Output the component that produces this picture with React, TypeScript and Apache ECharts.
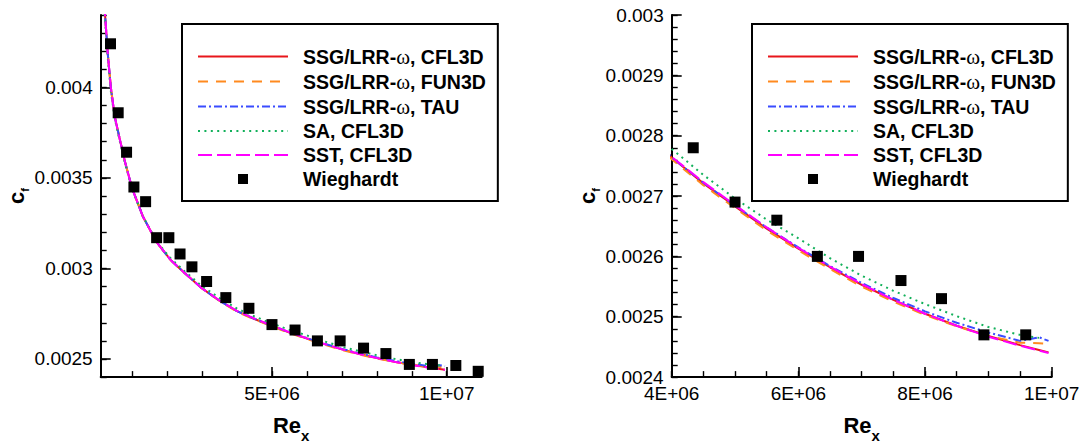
import React, { useEffect, useRef } from 'react';
import * as echarts from 'echarts';

const FONT = '"Liberation Sans", Arial, Helvetica, sans-serif';

const SERIES_NAMES = [
  'SSG/LRR-ω, CFL3D',
  'SSG/LRR-ω, FUN3D',
  'SSG/LRR-ω, TAU',
  'SA, CFL3D',
  'SST, CFL3D',
  'Wieghardt',
];
const COLORS = ['#e8161b', '#ff8a1f', '#3a4cff', '#12b05a', '#ff00ff', '#000000'];
const DASHES: any[] = ['solid', [10, 8], [8, 3, 2, 3], [2, 4.4], [14, 5]];

// Re_x in millions
const RE_CURVE = [0.2, 0.25, 0.3, 0.39, 0.5, 0.65, 0.8, 1.0, 1.3, 1.7, 2.1, 2.5, 3.0, 3.5, 4.0, 4.5, 5.0, 5.5, 6.0, 6.5, 7.0, 7.5, 8.0, 8.5, 9.0, 9.5, 9.8, 9.95];
const CF_SSG_CFL3D = [0.00447, 0.00433, 0.00419, 0.004, 0.00384, 0.00371, 0.003585, 0.003442, 0.00329, 0.003145, 0.003047, 0.002975, 0.00289, 0.002822, 0.002764, 0.002721, 0.002683, 0.002646, 0.002613, 0.002582, 0.002553, 0.002528, 0.002505, 0.002485, 0.002468, 0.002453, 0.002445, 0.002441];
const CF_SSG_FUN3D = [0.00447, 0.00433, 0.00419, 0.004, 0.00384, 0.00371, 0.003585, 0.003442, 0.00329, 0.003145, 0.003047, 0.002975, 0.00289, 0.00282, 0.002761, 0.002718, 0.00268, 0.002643, 0.00261, 0.002579, 0.00255, 0.002525, 0.002503, 0.002484, 0.002468, 0.002457, 0.002456, 0.002455];
const CF_SSG_TAU = [0.00447, 0.00433, 0.00419, 0.004, 0.00384, 0.00371, 0.003585, 0.003442, 0.00329, 0.003145, 0.003047, 0.002975, 0.00289, 0.002822, 0.002764, 0.002722, 0.002684, 0.002648, 0.002615, 0.002584, 0.002556, 0.002531, 0.002509, 0.00249, 0.002474, 0.00246, 0.002466, 0.00246];
const CF_SA_CFL3D = [0.00444, 0.0043, 0.00417, 0.00398, 0.00383, 0.0037, 0.003578, 0.00344, 0.00329, 0.00315, 0.003056, 0.002985, 0.002902, 0.002837, 0.002778, 0.002735, 0.002696, 0.002661, 0.00263, 0.002597, 0.002568, 0.002543, 0.002521, 0.002501, 0.002483, 0.00247, 0.002465, null];
const CF_SST_CFL3D = [0.00447, 0.00433, 0.00419, 0.004, 0.00384, 0.00371, 0.003585, 0.003442, 0.00329, 0.003145, 0.003047, 0.002975, 0.00289, 0.002823, 0.002765, 0.002723, 0.002685, 0.002648, 0.002614, 0.002583, 0.002554, 0.002528, 0.002505, 0.002485, 0.002467, 0.002452, 0.002444, 0.00244];
const CURVES = [CF_SSG_CFL3D, CF_SSG_FUN3D, CF_SSG_TAU, CF_SA_CFL3D, CF_SST_CFL3D];

// Wieghardt experiment, Re_x in millions
const RE_WIEGHARDT = [0.38, 0.6, 0.84, 1.05, 1.385, 1.7, 2.05, 2.37, 2.71, 3.13, 3.68, 4.34, 5.0, 5.66, 6.3, 6.95, 7.62, 8.26, 8.93, 9.59, 10.26, 10.9];
const CF_WIEGHARDT = [0.004241, 0.00386, 0.003642, 0.00345, 0.003369, 0.00317, 0.00317, 0.00308, 0.003009, 0.002928, 0.002839, 0.00278, 0.00269, 0.00266, 0.0026, 0.0026, 0.00256, 0.00253, 0.00247, 0.00247, 0.002464, 0.002432];

// axes
const LEFT_X_RANGE = [1e5, 1.1e7];
const LEFT_Y_RANGE = [0.0024, 0.0044];
const RIGHT_X_RANGE = [4e6, 1e7];
const RIGHT_Y_RANGE = [0.0024, 0.003];
const LEFT_X_LABELS = [5e6, 1e7];
const LEFT_Y_LABELS = [0.0025, 0.003, 0.0035, 0.004];
const RIGHT_X_LABELS = [4e6, 6e6, 8e6, 1e7];
const RIGHT_Y_LABELS = [0.0024, 0.0025, 0.0026, 0.0027, 0.0028, 0.0029, 0.003];

const range = (a: number, b: number, step: number) => {
  const out: number[] = [];
  const n = Math.round((b - a) / step);
  for (let i = 0; i <= n; i++) out.push(+(a + i * step).toPrecision(10));
  return out;
};
const LEFT_X_MINOR = range(1e6, 1.1e7, 1e6);
const LEFT_Y_MINOR = range(0.0024, 0.0044, 0.0001);
const RIGHT_X_MINOR = range(4e6, 1e7, 5e5);
const RIGHT_Y_MINOR = range(0.0024, 0.003, 0.00002);

const fmtE = (v: number) => {
  const [m, e] = v.toExponential().split('e');
  const sign = e[0] === '-' ? '-' : '+';
  const n = Math.abs(parseInt(e, 10));
  return `${m.toUpperCase()}E${sign}${n < 10 ? '0' + n : n}`;
};
const fmtY = (v: number) => String(parseFloat(v.toFixed(6)));

function axisPair(dim: 'x' | 'y', gridIndex: number, rng: number[], labels: number[], minor: number[]) {
  const position = dim === 'x' ? 'bottom' : 'left';
  const major: any = {
    type: 'value',
    gridIndex,
    position,
    min: rng[0],
    max: rng[1],
    splitLine: { show: false },
    axisLine: { show: true, onZero: false, lineStyle: { color: '#000', width: 2 } },
    axisTick: { show: true, inside: true, length: 10, customValues: labels, lineStyle: { color: '#000', width: 1.6 } },
    axisLabel: {
      show: true,
      customValues: labels,
      margin: dim === 'x' ? 7 : 8,
      color: '#000',
      fontFamily: FONT,
      fontSize: 19,
      formatter: dim === 'x' ? (v: number) => fmtE(v) : (v: number) => fmtY(v),
    },
  };
  if (dim === 'x') {
    major.name = '{r|Re}{s|x}';
    major.nameLocation = 'middle';
    major.nameGap = 31;
    major.nameTextStyle = {
      rich: {
        r: { fontFamily: FONT, fontSize: 22, fontWeight: 'bold', color: '#000', lineHeight: 22 },
        s: { fontFamily: FONT, fontSize: 15, fontWeight: 'bold', color: '#000', lineHeight: 15, padding: [20, 0, 0, 0] },
      },
    };
  } else {
    major.name = '{r|c}{s|f}';
    major.nameLocation = 'middle';
    major.nameGap = 71;
    major.nameTextStyle = {
      rich: {
        r: { fontFamily: FONT, fontSize: 22, fontWeight: 'bold', color: '#000', lineHeight: 22 },
        s: { fontFamily: FONT, fontSize: 11, fontWeight: 'bold', color: '#000', lineHeight: 11, padding: [17, 0, 0, 0] },
      },
    };
  }
  const minorAxis: any = {
    type: 'value',
    gridIndex,
    position,
    min: rng[0],
    max: rng[1],
    splitLine: { show: false },
    axisLine: { show: false, onZero: false },
    axisLabel: { show: false },
    axisTick: { show: true, inside: true, length: 6, customValues: minor, lineStyle: { color: '#000', width: 1.4 } },
  };
  return [major, minorAxis];
}

function buildSeries(xIdx: number, yIdx: number) {
  const out: any[] = [];
  CURVES.forEach((cf, k) => {
    out.push({
      type: 'line',
      name: SERIES_NAMES[k],
      xAxisIndex: xIdx,
      yAxisIndex: yIdx,
      data: RE_CURVE.map((r, i) => [r * 1e6, cf[i]]),
      symbol: 'none',
      showSymbol: false,
      smooth: false,
      color: COLORS[k],
      lineStyle: { color: COLORS[k], width: 2, type: DASHES[k] },
      itemStyle: { color: COLORS[k] },
      clip: true,
      z: 2 + k * 0.01,
    });
  });
  out.push({
    type: 'scatter',
    name: SERIES_NAMES[5],
    xAxisIndex: xIdx,
    yAxisIndex: yIdx,
    data: RE_WIEGHARDT.map((r, i) => [r * 1e6, CF_WIEGHARDT[i]]),
    symbol: 'rect',
    symbolSize: 11,
    itemStyle: { color: '#000', opacity: 1 },
    clip: true,
    z: 4,
  });
  return out;
}

function legendAt(left: number) {
  return {
    show: true,
    left,
    top: 24,
    orient: 'vertical',
    itemWidth: 90,
    itemHeight: 10,
    itemGap: 4,
    padding: [22, 12, 12, 15],
    borderColor: '#000',
    borderWidth: 2,
    borderRadius: 0,
    backgroundColor: '#fff',
    selectedMode: false,
    z: 10,
    formatter: (name: string) => name.replace('ω', '{w|ω}'),
    textStyle: {
      fontFamily: FONT,
      fontSize: 19.5,
      fontWeight: 'bold',
      color: '#000',
      padding: [0, 0, 0, 10],
      rich: {
        w: { fontFamily: '"Liberation Serif", "DejaVu Serif", serif', fontSize: 21, fontWeight: 'normal', color: '#000' },
      },
    },
    data: SERIES_NAMES.map((n, i) =>
      i < 5
        ? { name: n, itemStyle: { opacity: 0 } }
        : { name: n, icon: 'path://M0,0M90,10M40,0L50,0L50,10L40,10Z', itemStyle: { color: '#000', opacity: 1 } }
    ),
  };
}

export default function App() {
  const ref = useRef<HTMLDivElement>(null);
  useEffect(() => {
    if (!ref.current) return;
    const chart = echarts.init(ref.current, undefined, { renderer: 'svg' });
    const [lx, lxm] = axisPair('x', 0, LEFT_X_RANGE, LEFT_X_LABELS, LEFT_X_MINOR);
    const [ly, lym] = axisPair('y', 0, LEFT_Y_RANGE, LEFT_Y_LABELS, LEFT_Y_MINOR);
    const [rx, rxm] = axisPair('x', 1, RIGHT_X_RANGE, RIGHT_X_LABELS, RIGHT_X_MINOR);
    const [ry, rym] = axisPair('y', 1, RIGHT_Y_RANGE, RIGHT_Y_LABELS, RIGHT_Y_MINOR);
    chart.setOption({
      animation: false,
      backgroundColor: '#fff',
      grid: [
        { left: 100.7, top: 15, width: 381, height: 373.3, containLabel: false },
        { left: 671.7, top: 15, width: 380, height: 373.3, containLabel: false },
      ],
      xAxis: [lx, lxm, rx, rxm],
      yAxis: [ly, lym, ry, rym],
      legend: [legendAt(182), legendAt(752)],
      series: [...buildSeries(0, 0), ...buildSeries(2, 2)],
    });
    return () => chart.dispose();
  }, []);
  return (
    <div
      ref={ref}
      style={{ position: 'absolute', left: 0, top: 0, width: 1083, height: 448 }}
    />
  );
}
